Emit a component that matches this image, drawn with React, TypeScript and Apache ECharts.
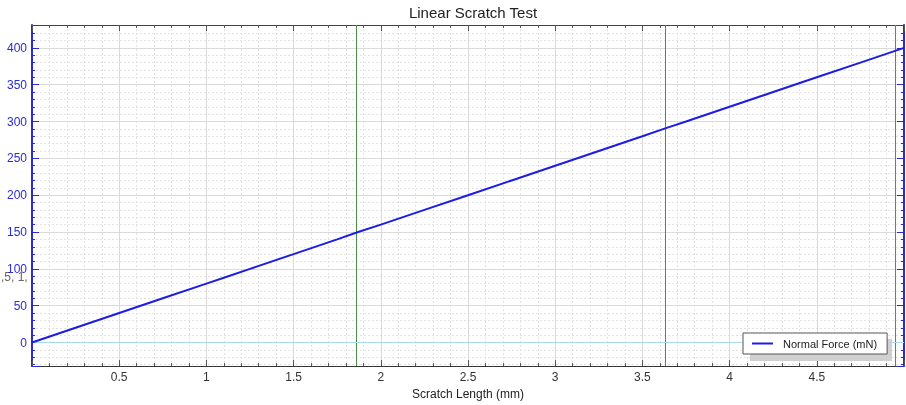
import React, { useEffect, useRef } from "react";
import * as echarts from "echarts";

const titleText = "Linear Scratch Test";
const xName = "Scratch Length (mm)";
const seriesName = "Normal Force (mN)";
const lengthMm = [0, 0.25, 0.5, 0.75, 1, 1.1, 1.25, 1.5, 1.75, 1.87, 2, 2.25, 2.5, 2.75, 3, 3.25, 3.5, 3.635, 3.75, 4, 4.25, 4.5, 4.75, 5];
const forceMn = [0, 20, 40, 60, 80, 88, 100, 120, 140, 150, 160, 180, 200, 220, 240, 260, 280, 291, 300, 320, 340, 360, 380, 400];
const markerX = [1.865, 3.63, 4.945];

const blue = "#2b2bd6";

export default function App() {
  const ref = useRef<HTMLDivElement>(null);
  useEffect(() => {
    const chart = echarts.init(ref.current!, null, { renderer: "svg" });
    const data = lengthMm.map((x, i) => [x, forceMn[i]]);
    const fontFamily = "Liberation Sans, Arial, sans-serif";
    const yCommon = {
      type: "value",
      min: -32,
      max: 431,
      splitNumber: 9,
      minInterval: 50,
      maxInterval: 50,
    };
    chart.setOption({
      animation: false,
      textStyle: { fontFamily },
      title: {
        text: titleText,
        left: 468,
        textAlign: "center",
        top: 0,
        textStyle: { fontSize: 15, fontWeight: "normal", color: "#222", fontFamily },
      },
      grid: { left: 32, right: 2, top: 25, bottom: 34, containLabel: false },
      legend: {
        left: 743,
        top: 333,
        orient: "vertical",
        backgroundColor: "#fff",
        borderColor: "#555",
        borderWidth: 1,
        padding: [5, 10, 5, 9],
        itemWidth: 21,
        itemHeight: 2,
        icon: "rect",
        textStyle: { fontSize: 11, color: "#222", fontFamily, padding: [0, 0, 0, 5] },
        data: [seriesName],
        z: 10,
      },
      graphic: [
        {
          type: "rect",
          shape: { x: 750, y: 339, width: 142, height: 22 },
          style: { fill: "#d0d0d0" },
          z: 9,
        },
        {
          type: "text",
          left: 1,
          top: 271,
          style: { text: ",5, 1,", fontSize: 12, fill: "#666", fontFamily },
        },
      ],
      xAxis: [
        {
          type: "value",
          min: 0,
          max: 5,
          interval: 0.5,
          name: xName,
          nameLocation: "middle",
          nameGap: 19,
          nameTextStyle: { fontSize: 12, color: "#222" },
          axisLine: { show: true, onZero: false, lineStyle: { color: "#333", width: 1 } },
          axisTick: { show: true, inside: true, length: 6, lineStyle: { color: "#555" } },
          minorTick: { show: true, splitNumber: 5, length: 3, lineStyle: { color: "#555" } },
          axisLabel: { showMinLabel: false, showMaxLabel: false, color: "#333", fontSize: 12, margin: 5 },
          splitLine: { show: true, lineStyle: { color: "#dadada", width: 1 } },
          minorSplitLine: { show: true, lineStyle: { color: "#e2e2e2", type: [2, 2], width: 1 } },
        },
        {
          type: "value",
          position: "top",
          min: 0,
          max: 5,
          interval: 0.5,
          axisLine: { show: true, onZero: false, lineStyle: { color: "#444", width: 1 } },
          axisTick: { show: true, inside: true, length: 6, lineStyle: { color: "#555" } },
          minorTick: { show: true, splitNumber: 5, length: 3, lineStyle: { color: "#555" } },
          axisLabel: { show: false },
          splitLine: { show: false },
        },
      ],
      yAxis: [
        {
          ...yCommon,
          axisLine: { show: true, onZero: false, lineStyle: { color: blue, width: 2 } },
          axisTick: { show: true, inside: true, length: 7, lineStyle: { color: blue } },
          minorTick: { show: true, splitNumber: 5, length: 3, lineStyle: { color: blue } },
          axisLabel: { showMinLabel: false, showMaxLabel: false, color: blue, fontSize: 12, margin: 5 },
          splitLine: { show: true, lineStyle: { color: "#dadada", width: 1 } },
          minorSplitLine: { show: true, lineStyle: { color: "#e2e2e2", type: [2, 2], width: 1 } },
        },
        {
          ...yCommon,
          position: "right",
          axisLine: { show: true, onZero: false, lineStyle: { color: blue, width: 2 } },
          axisTick: { show: true, inside: true, length: 7, lineStyle: { color: blue } },
          minorTick: { show: true, splitNumber: 5, length: 3, lineStyle: { color: blue } },
          axisLabel: { show: false },
          splitLine: { show: false },
        },
      ],
      series: [
        {
          name: seriesName,
          type: "line",
          data,
          symbol: "none",
          lineStyle: { color: "#1c1ce6", width: 2 },
          itemStyle: { color: "#1c1ce6" },
          z: 5,
          markLine: {
            silent: true,
            symbol: ["none", "none"],
            label: { show: false },
            data: [
              ...markerX.map((x) => ({ xAxis: x, lineStyle: { color: "#4d8f4d", width: 1, type: "solid" } })),
              { yAxis: 0, lineStyle: { color: "#a6dce8", width: 1, type: "solid" } },
            ],
          },
        },
      ],
    });
    return () => chart.dispose();
  }, []);
  return <div ref={ref} style={{ position: "fixed", left: 0, top: 0, width: 906, height: 405 }} />;
}
